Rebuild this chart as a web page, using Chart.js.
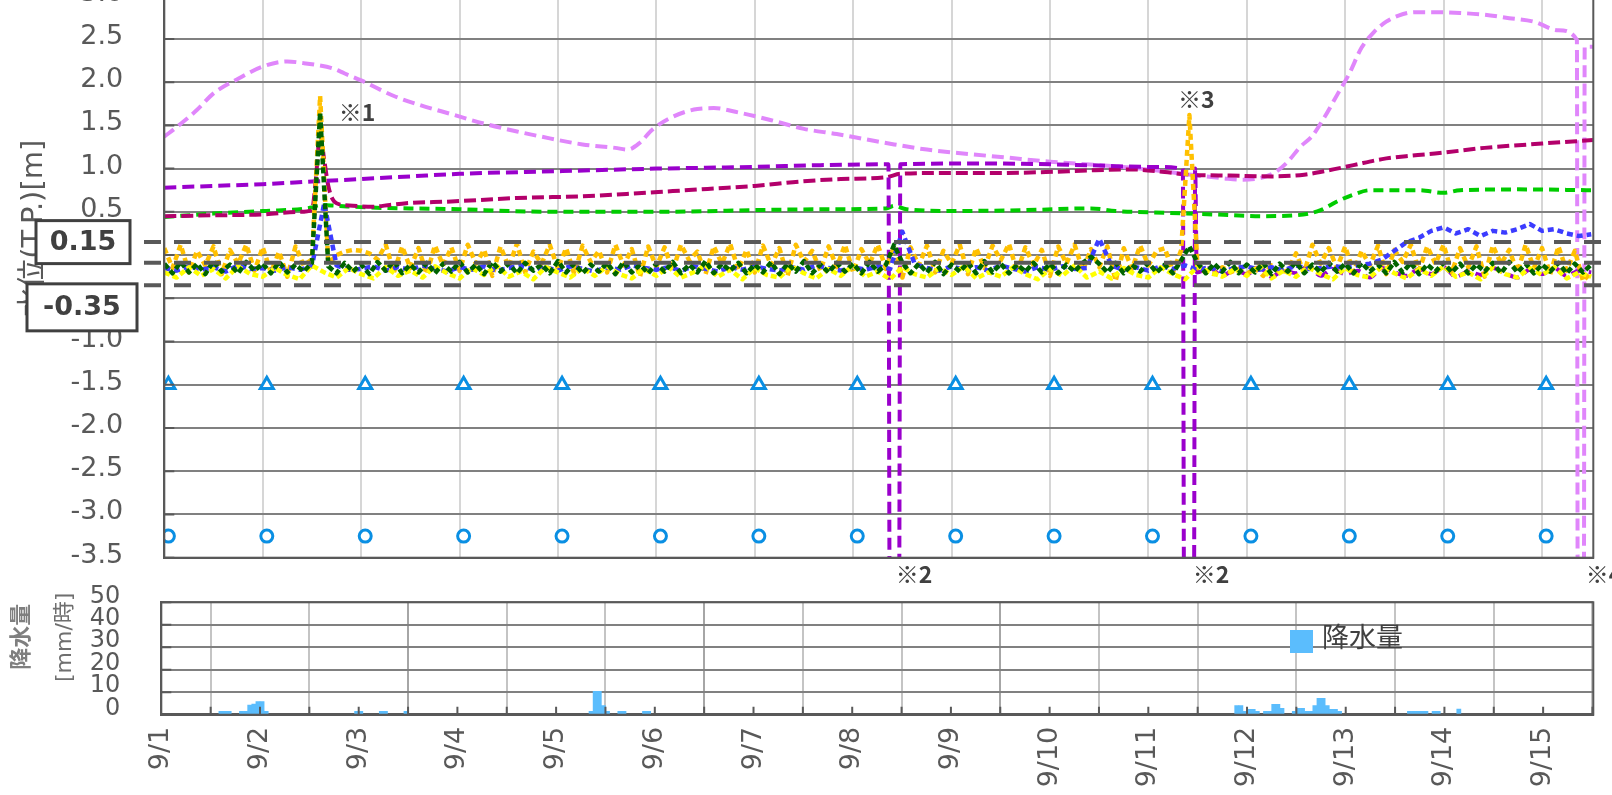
<!DOCTYPE html>
<html lang="ja">
<head>
<meta charset="utf-8">
<title>水位・降水量</title>
<script src="https://cdn.jsdelivr.net/npm/chart.js@4.4.1/dist/chart.umd.min.js"></script>
<style>
  html, body { margin: 0; padding: 0; background: #fff; overflow: hidden; }
  body { width: 1612px; height: 795px; position: relative; }
  #levelChart { position: absolute; left: 0; top: -74px; }
  #rainChart { position: absolute; left: 0; top: 542px; }
</style>
</head>
<body>
<canvas id="levelChart" width="1612" height="702"></canvas>
<canvas id="rainChart" width="1612" height="253"></canvas>
<script>
// 時刻は 9/1 0:00 からの経過時間 [h]
const dayLabels = ['9/1', '9/2', '9/3', '9/4', '9/5', '9/6', '9/7', '9/8', '9/9', '9/10', '9/11', '9/12', '9/13', '9/14', '9/15'];

// [時刻, 水位]
const violetLine = [[0,1.37],[3,1.48],[8,1.68],[12,1.87],[18,2.04],[24,2.18],[30,2.24],[34,2.22],[37,2.2],[41,2.16],[44,2.1],[48,2.02],[56,1.84],[62,1.74],[70,1.63],[78,1.52],[86,1.43],[94,1.35],[102,1.28],[110,1.24],[113,1.22],[116,1.3],[119,1.45],[124,1.6],[130,1.69],[134,1.7],[140,1.65],[148,1.56],[156,1.46],[164,1.4],[171,1.34],[178,1.28],[186,1.22],[196,1.17],[205,1.13],[216,1.08],[228,1.04],[238,1.0],[245,0.96],[252,0.92],[258,0.89],[263,0.87],[268,0.9],[271,0.96],[274,1.08],[277,1.25],[280,1.38],[283,1.6],[286,1.85],[289,2.1],[292,2.4],[295,2.58],[298,2.7],[301,2.77],[305,2.81],[310,2.81],[316,2.8],[322,2.78],[328,2.74],[334,2.7],[340,2.6],[344.5,2.49],[344.7,-4],[346.2,-4],[346.4,2.41],[348.5,2.41]];

const purpleLine = [[0,0.78],[12,0.8],[24,0.82],[36,0.85],[48,0.88],[60,0.91],[72,0.94],[96,0.97],[120,1.0],[144,1.02],[160,1.04],[176.6,1.05],[176.9,-4],[179.2,-4],[179.5,1.05],[200,1.06],[225,1.04],[240,1.02],[248.4,1.0],[248.7,-4],[251.1,-4],[251.4,1.0],[251.8,-0.2],[255,-0.15],[258,-0.24],[261,-0.17],[264,-0.22],[267,-0.14],[270,-0.25],[273,-0.18],[276,-0.21],[279,-0.13],[282,-0.24],[285,-0.16],[288,-0.22],[291,-0.18],[294,-0.26],[297,-0.15],[300,-0.2],[303,-0.24],[306,-0.16],[309,-0.22],[312,-0.14],[315,-0.25],[318,-0.19],[321,-0.23],[324,-0.15],[327,-0.21],[330,-0.26],[333,-0.17],[336,-0.22],[339,-0.15],[342,-0.24],[345,-0.18],[348,-0.2]];

const crimsonLine = [[0,0.45],[12,0.46],[24,0.47],[33,0.5],[36,0.52],[37,0.9],[38,1.4],[39,1.1],[40,0.8],[41,0.65],[42,0.6],[46,0.57],[51,0.56],[55,0.58],[59,0.6],[70,0.62],[86,0.66],[102,0.68],[114,0.71],[124,0.74],[134,0.77],[144,0.8],[155,0.85],[165,0.88],[176,0.9],[179.5,0.94],[190,0.95],[204,0.95],[215,0.96],[226,0.98],[236,0.99],[244,0.96],[250,0.93],[260,0.92],[270,0.91],[278,0.93],[284,0.98],[290,1.04],[297,1.11],[304,1.15],[311,1.18],[322,1.24],[336,1.29],[348.5,1.33]];

const greenLine = [[0,0.44],[12,0.48],[24,0.51],[36,0.55],[38,0.58],[42,0.57],[50,0.55],[60,0.54],[72,0.53],[84,0.51],[96,0.5],[120,0.5],[144,0.52],[160,0.53],[176,0.54],[178,0.57],[181,0.53],[192,0.51],[210,0.52],[226,0.54],[232,0.51],[244,0.49],[256,0.47],[268,0.45],[276,0.46],[282,0.52],[286,0.62],[290,0.7],[294,0.75],[306,0.75],[312,0.72],[316,0.75],[330,0.76],[348,0.75]];

// 2時間ごと
const orangeLevel = [
  0.08,-0.15,0.12,-0.2,0.05,-0.12,0.1,-0.22,0.06,-0.1,0.12,-0.18,
  0.09,-0.2,0.04,-0.25,0.1,-0.12,-0.05,1.84,-0.1,0.0,0.04,0.06,
  0.05,0.02,-0.05,0.12,-0.2,0.1,-0.15,0.08,-0.22,0.11,-0.12,0.09,
  -0.18,0.12,-0.1,0.06,-0.24,0.1,-0.14,0.13,-0.2,0.04,-0.1,0.12,
  -0.16,0.08,-0.22,0.11,-0.08,0.05,-0.2,0.12,-0.12,0.07,-0.25,0.1,
  -0.14,0.09,-0.18,0.12,-0.06,0.04,-0.22,0.1,-0.1,0.13,-0.17,0.06,
  -0.2,0.11,-0.12,0.08,-0.24,0.12,-0.08,0.05,-0.18,0.1,-0.14,0.12,
  -0.2,0.07,-0.1,0.12,-0.16,0.1,-0.26,0.09,-0.12,0.11,-0.2,0.05,
  -0.1,0.12,-0.22,0.08,-0.15,0.11,-0.06,0.13,-0.2,0.09,-0.12,0.06,
  -0.24,0.1,-0.1,0.12,-0.18,0.07,-0.14,0.1,-0.3,0.08,-0.16,0.11,
  -0.12,0.05,0.08,-0.2,0.06,1.62,-0.15,-0.2,-0.22,-0.14,-0.2,-0.16,
  -0.22,-0.15,-0.24,-0.12,-0.2,-0.18,0.02,-0.2,0.12,-0.1,0.08,-0.15,
  0.1,-0.2,0.05,-0.12,0.11,-0.22,0.06,-0.08,0.12,-0.18,0.1,-0.1,
  0.12,-0.2,0.08,-0.14,0.1,-0.25,0.11,-0.1,0.06,-0.2,0.12,-0.15,
  0.08,-0.22,0.1,-0.18,0.05,-0.3,-0.2
];

// 2時間ごと
const darkGreenLevel = [
  -0.1,-0.21,-0.08,-0.2,-0.1,-0.22,-0.07,-0.19,-0.11,-0.21,-0.08,-0.18,
  -0.1,-0.21,-0.08,-0.2,-0.11,-0.19,-0.09,1.65,-0.13,-0.21,-0.09,-0.19,
  -0.11,-0.22,-0.08,-0.18,-0.07,-0.21,-0.11,-0.2,-0.09,-0.21,-0.1,-0.19,
  -0.08,-0.2,-0.11,-0.22,-0.08,-0.19,-0.1,-0.21,-0.09,-0.18,-0.11,-0.21,
  -0.07,-0.2,-0.1,-0.21,-0.11,-0.19,-0.09,-0.22,-0.08,-0.2,-0.11,-0.21,
  -0.1,-0.19,-0.08,-0.21,-0.11,-0.2,-0.07,-0.21,-0.1,-0.18,-0.09,-0.21,
  -0.11,-0.2,-0.08,-0.22,-0.1,-0.19,-0.07,-0.21,-0.11,-0.2,-0.09,-0.19,
  -0.1,-0.21,-0.08,-0.19,-0.11,0.12,-0.09,-0.21,-0.1,-0.2,-0.08,-0.22,
  -0.11,-0.19,-0.09,-0.21,-0.07,-0.2,-0.1,-0.21,-0.11,-0.19,-0.09,-0.2,
  -0.1,-0.21,-0.11,-0.19,-0.09,-0.02,-0.1,-0.2,-0.09,-0.21,-0.11,-0.19,
  -0.09,-0.2,-0.11,-0.21,-0.06,0.1,-0.09,-0.21,-0.1,-0.19,-0.08,-0.21,
  -0.11,-0.2,-0.09,-0.22,-0.1,-0.19,-0.08,-0.21,-0.11,-0.2,-0.09,-0.19,
  -0.1,-0.21,-0.09,-0.19,-0.11,-0.21,-0.08,-0.2,-0.09,-0.22,-0.11,-0.19,
  -0.09,-0.2,-0.1,-0.21,-0.11,-0.19,-0.09,-0.21,-0.08,-0.2,-0.1,-0.21,
  -0.11,-0.19,-0.09,-0.21,-0.1,-0.2,-0.11
];

// 3時間ごと
const yellowLevel = [
  -0.2,-0.26,-0.14,-0.24,-0.16,-0.27,-0.13,-0.22,
  -0.25,-0.15,-0.23,-0.28,-0.12,-0.2,-0.26,-0.15,
  -0.22,-0.27,-0.14,-0.24,-0.18,-0.26,-0.13,-0.21,
  -0.27,-0.15,-0.23,-0.12,-0.25,-0.19,-0.28,-0.14,
  -0.2,-0.26,-0.15,-0.24,-0.13,-0.22,-0.27,-0.16,
  -0.24,-0.14,-0.26,-0.2,-0.12,-0.25,-0.17,-0.28,
  -0.15,-0.23,-0.26,-0.13,-0.21,-0.27,-0.16,-0.24,
  -0.12,-0.25,-0.19,-0.28,-0.14,-0.22,-0.26,-0.15,
  -0.23,-0.13,-0.27,-0.2,-0.25,-0.14,-0.22,-0.28,
  -0.16,-0.24,-0.12,-0.26,-0.19,-0.27,-0.15,-0.23,
  -0.26,-0.14,-0.22,-0.28,-0.13,-0.2,-0.25,-0.16,
  -0.24,-0.12,-0.27,-0.18,-0.25,-0.14,-0.22,-0.28,
  -0.15,-0.23,-0.26,-0.13,-0.21,-0.27,-0.16,-0.24,
  -0.13,-0.25,-0.2,-0.28,-0.14,-0.22,-0.26,-0.15,
  -0.23,-0.14,-0.27,-0.2,-0.25
];

// 3時間ごと
const blueLevel = [
  -0.15,-0.18,-0.13,-0.17,-0.14,-0.19,-0.12,-0.16,
  -0.15,-0.18,-0.14,-0.17,-0.13,0.6,-0.12,-0.17,
  -0.16,-0.13,-0.18,-0.14,-0.17,-0.12,-0.16,-0.19,
  -0.14,-0.17,-0.13,-0.18,-0.15,-0.12,-0.17,-0.14,
  -0.18,-0.13,-0.16,-0.19,-0.14,-0.17,-0.12,-0.15,
  -0.17,-0.14,-0.18,-0.13,-0.16,-0.19,-0.14,-0.17,
  -0.13,-0.16,-0.18,-0.14,-0.17,-0.12,-0.15,-0.18,
  -0.14,-0.17,-0.13,-0.16,0.27,-0.1,-0.15,-0.18,
  -0.13,-0.17,-0.14,-0.18,-0.12,-0.16,-0.19,-0.14,
  -0.17,-0.13,-0.16,-0.15,0.19,-0.12,-0.17,-0.14,
  -0.18,-0.13,-0.16,-0.12,-0.17,-0.14,-0.19,-0.15,
  -0.13,-0.17,-0.14,-0.18,-0.12,-0.16,-0.15,-0.13,
  -0.14,-0.12,-0.1,-0.05,0.05,0.15,0.2,0.28,
  0.32,0.25,0.3,0.22,0.28,0.26,0.3,0.36,
  0.28,0.3,0.25,0.22,0.24
];

// 基準点の標高
const markerHours = [1, 25, 49, 73, 97, 121, 145, 169, 193, 217, 241, 265, 289, 313, 337];
const triangleLevel = [-1.5, -1.5, -1.5, -1.5, -1.5, -1.5, -1.5, -1.5, -1.5, -1.5, -1.5, -1.5, -1.5, -1.5, -1.5];
const circleLevel = [-3.25, -3.25, -3.25, -3.25, -3.25, -3.25, -3.25, -3.25, -3.25, -3.25, -3.25, -3.25, -3.25, -3.25, -3.25];

const guideLevels = [0.15, -0.09, -0.35];
const guideLabels = ['0.15', '-0.35'];

// 時間雨量 (開始時刻, mm)
const rainHours = [14, 15, 16, 19, 20, 21, 22, 23, 24, 25, 47, 48, 53, 54, 59, 104, 105, 106, 107, 108, 111, 112, 117, 118, 261, 262, 263, 264, 265, 266, 268, 269, 270, 271, 272, 275, 276, 277, 278, 279, 280, 281, 282, 283, 284, 285, 286, 303, 304, 305, 306, 307, 309, 310, 315];
const rainMm = [1.5, 1.5, 1.5, 1.5, 1.5, 4.3, 4.7, 5.8, 5.8, 1.5, 1.5, 1.5, 1.5, 1.5, 1.5, 1.5, 10.4, 10.4, 4.1, 1.5, 1.5, 1.5, 1.5, 1.5, 4.1, 4.1, 1.5, 2.4, 2.4, 1.5, 1.5, 1.5, 4.6, 4.6, 2.8, 1.5, 2.8, 2.8, 1.5, 1.5, 4.1, 7.3, 7.3, 4.1, 2.4, 2.4, 1.5, 1.5, 1.5, 1.5, 1.5, 1.5, 1.5, 1.5, 2.5];

const FONT = '"DejaVu Sans", "Noto Sans CJK JP", sans-serif';
const JP = '"Noto Sans CJK JP", sans-serif';
const INK = '#595959';

const pairs = list => list.map(p => ({ x: p[0], y: p[1] }));
const every = (values, step) => values.map((v, i) => ({ x: i * step, y: v }));

function smooth(label, list, color, dash, order) {
  return { label, data: pairs(list), borderColor: color, borderWidth: 4, borderDash: dash,
    cubicInterpolationMode: 'monotone', pointRadius: 0, order };
}
function noisy(label, points, color, dash, order) {
  return { label, data: points, borderColor: color, borderWidth: 4.5, borderDash: dash,
    tension: 0, pointRadius: 0, order };
}
function marker(label, values, style, radius, order) {
  return { label, data: markerHours.map((h, i) => ({ x: h, y: values[i] })), showLine: false,
    pointStyle: style, pointRadius: radius, pointBorderWidth: 3, pointBorderColor: '#0a8fe3',
    pointBackgroundColor: '#fff', order };
}

const levelDecor = {
  id: 'levelDecor',
  afterDraw(chart) {
    const { ctx, chartArea: a, scales: { x, y } } = chart;
    ctx.save();
    ctx.strokeStyle = INK;
    ctx.lineWidth = 2;
    ctx.strokeRect(a.left, a.top, a.right - a.left, a.bottom - a.top);
    ctx.beginPath();
    y.ticks.forEach(t => {
      const py = y.getPixelForValue(t.value);
      ctx.moveTo(a.left, py);
      ctx.lineTo(a.left + 10, py);
    });
    ctx.stroke();

    // 縦軸タイトル
    ctx.save();
    ctx.translate(34, y.getPixelForValue(0.31));
    ctx.rotate(-Math.PI / 2);
    ctx.font = '29px ' + FONT;
    ctx.fillStyle = INK;
    ctx.textAlign = 'center';
    ctx.textBaseline = 'middle';
    ctx.fillText('水位(T.P.)[m]', 0, 0);
    ctx.restore();

    // 管理水位の破線
    ctx.strokeStyle = INK;
    ctx.lineWidth = 4;
    ctx.setLineDash([17, 13]);
    guideLevels.forEach(v => {
      const py = y.getPixelForValue(v);
      ctx.beginPath();
      ctx.moveTo(144, py);
      ctx.lineTo(chart.width, py);
      ctx.stroke();
    });
    ctx.setLineDash([]);

    // 水位ラベルの枠
    const boxes = [
      { text: guideLabels[0], left: 36, width: 94, height: 43, cy: y.getPixelForValue(0.15) },
      { text: guideLabels[1], left: 27, width: 110, height: 47, cy: y.getPixelForValue(-0.35) + 22 }
    ];
    ctx.font = 'bold 27px ' + FONT;
    ctx.textAlign = 'center';
    ctx.textBaseline = 'middle';
    ctx.lineWidth = 3;
    ctx.strokeStyle = '#404040';
    boxes.forEach(b => {
      const top = b.cy - b.height / 2;
      ctx.fillStyle = '#fff';
      ctx.fillRect(b.left, top, b.width, b.height);
      ctx.strokeRect(b.left, top, b.width, b.height);
      ctx.fillStyle = '#404040';
      ctx.fillText(b.text, b.left + b.width / 2, b.cy + 1);
    });

    // 注記
    ctx.font = 'bold 23px ' + JP;
    ctx.fillStyle = '#404040';
    ctx.fillText('※1', x.getPixelForValue(38) + 37, y.getPixelForValue(1.65));
    ctx.fillText('※3', x.getPixelForValue(250) + 7, y.getPixelForValue(1.8));
    ctx.fillText('※2', x.getPixelForValue(179.4) + 14, a.bottom + 17);
    ctx.fillText('※2', x.getPixelForValue(251.4) + 16, a.bottom + 17);
    ctx.textAlign = 'left';
    ctx.fillText('※4', x.getPixelForValue(346.4) + 1, a.bottom + 17);
    ctx.restore();
  }
};

new Chart(document.getElementById('levelChart'), {
  type: 'line',
  data: {
    datasets: [
      marker('基準点△', triangleLevel, 'triangle', 7.5, 0),
      marker('基準点○', circleLevel, 'circle', 6, 1),
      noisy('水位7', every(darkGreenLevel, 2), '#006400', [6, 3], 2),
      noisy('水位6', every(yellowLevel, 3), '#ffff00', [6, 3], 3),
      noisy('水位5', every(blueLevel, 3), '#3c3cff', [6, 4], 4),
      noisy('水位4', every(orangeLevel, 2), '#ffc000', [6, 4], 5),
      smooth('水位3', purpleLine, '#9a00cc', [12, 6], 6),
      smooth('水位2', crimsonLine, '#b3006b', [12, 5], 7),
      smooth('水位1', greenLine, '#00cc00', [10, 6], 8),
      smooth('潮位', violetLine, '#e086fb', [12, 6], 9)
    ]
  },
  options: {
    responsive: false,
    animation: false,
    devicePixelRatio: 1,
    events: [],
    layout: { padding: { top: 69.7, right: 18.7, bottom: 70.3, left: 0 } },
    plugins: { legend: { display: false }, tooltip: { enabled: false } },
    elements: { line: { borderJoinStyle: 'round' } },
    scales: {
      x: {
        type: 'linear', min: 0, max: 348.5,
        ticks: { display: false, stepSize: 24, includeBounds: false },
        grid: { color: '#d6d6d6', lineWidth: 2, drawTicks: false },
        border: { color: INK, width: 2 }
      },
      y: {
        min: -3.5, max: 3.0,
        afterFit(scale) { scale.width = 164.3; },
        ticks: {
          stepSize: 0.5, autoSkip: false, padding: 41, labelOffset: -2, color: INK,
          font: { family: FONT, size: 27 },
          callback: v => v.toFixed(1)
        },
        grid: { color: '#808080', lineWidth: 2, drawTicks: false },
        border: { color: INK, width: 2 }
      }
    }
  },
  plugins: [levelDecor]
});

const rainDecor = {
  id: 'rainDecor',
  afterDraw(chart) {
    const { ctx, chartArea: a, scales: { x, y } } = chart;
    ctx.save();
    ctx.strokeStyle = INK;
    ctx.lineWidth = 2;
    ctx.strokeRect(a.left, a.top, a.right - a.left, a.bottom - a.top);
    ctx.beginPath();
    for (let h = 12; h < x.max; h += 12) {
      const px = x.getPixelForValue(h);
      ctx.moveTo(px, a.bottom);
      ctx.lineTo(px, a.bottom - 8);
    }
    y.ticks.forEach(t => {
      const py = y.getPixelForValue(t.value);
      ctx.moveTo(a.left, py);
      ctx.lineTo(a.left + 10, py);
    });
    ctx.stroke();

    // 縦軸タイトル
    ctx.textAlign = 'center';
    ctx.textBaseline = 'middle';
    ctx.save();
    ctx.translate(20, a.top + 34.5);
    ctx.rotate(-Math.PI / 2);
    ctx.font = 'bold 22px ' + JP;
    ctx.fillStyle = '#7f7f7f';
    ctx.fillText('降水量', 0, 0);
    ctx.restore();
    ctx.save();
    ctx.translate(65, a.top + 35);
    ctx.rotate(-Math.PI / 2);
    ctx.font = '22px ' + FONT;
    ctx.fillStyle = '#6f6f6f';
    ctx.fillText('[mm/時]', 0, 0);
    ctx.restore();

    // 凡例
    ctx.fillStyle = '#5bbdfd';
    ctx.fillRect(1290, a.top + 27.7, 23, 23);
    ctx.font = '27px ' + JP;
    ctx.fillStyle = '#404040';
    ctx.textAlign = 'left';
    ctx.fillText(chart.data.datasets[0].label, 1322, a.top + 34);
    ctx.restore();
  }
};

new Chart(document.getElementById('rainChart'), {
  type: 'bar',
  data: {
    datasets: [{
      label: '降水量',
      data: rainHours.map((h, i) => ({ x: h + 0.5, y: rainMm[i] })),
      backgroundColor: '#5bbdfd',
      borderWidth: 0,
      barPercentage: 1,
      categoryPercentage: 1
    }]
  },
  options: {
    responsive: false,
    animation: false,
    devicePixelRatio: 1,
    events: [],
    layout: { padding: { top: 60.3, right: 18.7, bottom: 0, left: 0 } },
    plugins: { legend: { display: false }, tooltip: { enabled: false } },
    scales: {
      x: {
        type: 'linear', min: 0, max: 348.2, offset: false,
        afterFit(scale) { scale.height = 80.3; },
        ticks: {
          stepSize: 24, includeBounds: false, autoSkip: false, minRotation: 90, maxRotation: 90,
          padding: 12, color: INK, font: { family: FONT, size: 27 },
          callback: v => dayLabels[Math.round(v / 24)] ?? ''
        },
        grid: {
          color: c => [72, 144, 216].includes(c.tick && c.tick.value) ? '#a6a6a6' : '#c4c4c4',
          lineWidth: 2, drawTicks: false
        },
        border: { color: INK, width: 3 }
      },
      y: {
        min: 0, max: 50,
        afterFit(scale) { scale.width = 161.3; },
        ticks: {
          stepSize: 10, autoSkip: false, padding: 41, labelOffset: -6, color: INK,
          font: { family: FONT, size: 24 }
        },
        grid: { color: '#808080', lineWidth: 2, drawTicks: false },
        border: { color: INK, width: 2 }
      }
    }
  },
  plugins: [rainDecor]
});
</script>
</body>
</html>
